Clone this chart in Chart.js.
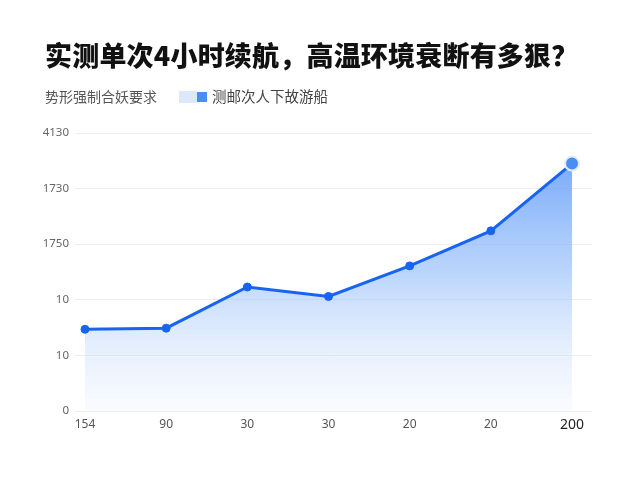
<!DOCTYPE html>
<html>
<head>
<meta charset="utf-8">
<script src="https://cdn.jsdelivr.net/npm/chart.js@4.4.1/dist/chart.umd.min.js"></script>
<style>
    body { margin: 0; background: #fff; font-family: "Noto Sans CJK SC", "Noto Sans", sans-serif; }
    #wrap { position: relative; width: 640px; height: 480px; }
    #title { position: absolute; left: 45px; top: 38px; font-size: 27px; font-weight: 900; color: #111; line-height: 34px; letter-spacing: 0.2px; white-space: nowrap; }
    #sub { position: absolute; left: 45px; top: 86px; font-size: 14px; line-height: 20px; color: #555; white-space: nowrap; }
    #legend { position: absolute; left: 179px; top: 86px; font-size: 14.5px; line-height: 20px; color: #444; white-space: nowrap; }
    .band { display: inline-block; width: 18px; height: 12px; background: #dde9fb; vertical-align: -1px; }
    .sq { display: inline-block; width: 10px; height: 10px; background: #4a8ef5; vertical-align: 0px; margin-right: 5px; }
    canvas { position: absolute; left: 0; top: 0; }
</style>
</head>
<body>
<div id="wrap">
    <canvas id="chart" width="640" height="480"></canvas>
    <div id="title">实测单次4小时续航，高温环境衰断有多狠？</div>
    <div id="sub">势形强制合妖要求</div>
    <div id="legend"><span class="band"></span><span class="sq"></span>测邮次人下故游船</div>
</div>
<script>
// data (y values in tick steps, tick labels as printed)
const categories = ["154", "90", "30", "30", "20", "20", "200"];
const yTickLabels = ["0", "10", "10", "1750", "1730", "4130"];
const endurance = [1.47, 1.49, 2.23, 2.06, 2.61, 3.24, 4.45];
const seriesName = "测邮次人下故游船";

const lineBlue = "#1763f4";
let last = endurance.length - 1;

let points = endurance.map((v, i) => ({ x: i, y: v }));

let chart = new Chart(document.getElementById("chart"), {
    type: "line",
    data: {
        datasets: [{
            label: seriesName,
            data: points,
            borderColor: lineBlue,
            borderWidth: 3,
            tension: 0,
            fill: "origin",
            backgroundColor: function (ctx) {
                let area = ctx.chart.chartArea;
                if (!area) return "rgba(90,150,245,0.4)";
                let g = ctx.chart.ctx.createLinearGradient(0, area.top, 0, area.bottom);
                g.addColorStop(0, "rgba(92,152,248,0.95)");
                g.addColorStop(0.5, "rgba(140,185,250,0.6)");
                g.addColorStop(1, "rgba(225,236,253,0.2)");
                return g;
            },
            pointRadius: ctx => ctx.dataIndex === last ? 7 : 4,
            pointBackgroundColor: ctx => ctx.dataIndex === last ? "#4a8ef5" : lineBlue,
            pointBorderColor: ctx => ctx.dataIndex === last ? "#e3ecfb" : lineBlue,
            pointBorderWidth: ctx => ctx.dataIndex === last ? 2 : 1
        }]
    },
    options: {
        responsive: false,
        animation: false,
        layout: { padding: { top: 133, left: 35, right: 48, bottom: 39 } },
        plugins: {
            legend: { display: false },
            tooltip: { enabled: false }
        },
        scales: {
            x: {
                type: "linear",
                min: -0.123,
                max: 6.246,
                afterBuildTicks: s => { s.ticks = categories.map((c, i) => ({ value: i })); },
                afterFit: s => { s.height = 30; },
                grid: { display: false, drawTicks: false },
                border: { display: false },
                ticks: {
                    padding: 6,
                    autoSkip: false,
                    maxRotation: 0,
                    callback: v => categories[v],
                    color: ctx => ctx.index === last ? "#222" : "#555",
                    font: ctx => ({ family: "Noto Sans", size: ctx.index === last ? 14 : 12 })
                }
            },
            y: {
                min: 0,
                max: 5,
                afterBuildTicks: s => { s.ticks = yTickLabels.map((t, i) => ({ value: i })); },
                afterFit: s => { s.width = 40; },
                grid: { color: "#eeeeee", drawTicks: false },
                border: { display: false },
                ticks: {
                    padding: 6,
                    callback: v => yTickLabels[v],
                    color: "#666",
                    font: { family: "Noto Sans", size: 11.5 }
                }
            }
        }
    }
});
</script>
</body>
</html>
